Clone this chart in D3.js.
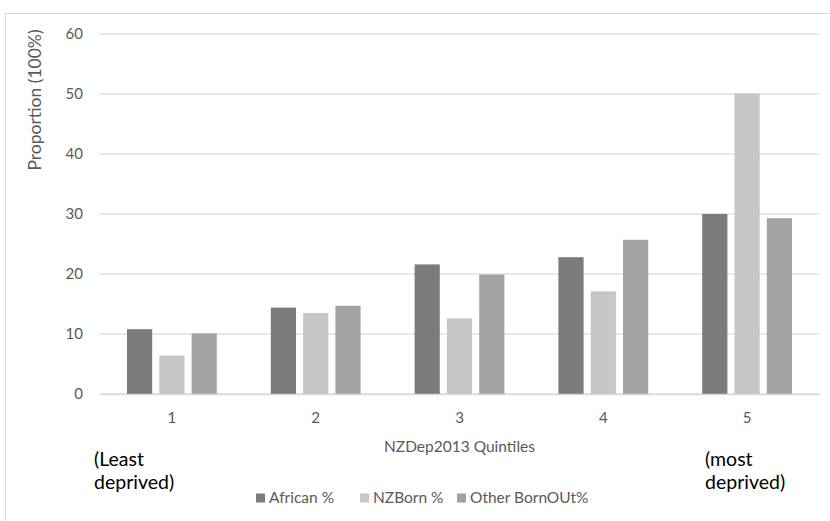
<!DOCTYPE html>
<html>
<head>
<meta charset="utf-8">
<script src="https://cdn.jsdelivr.net/npm/d3@7/dist/d3.min.js"></script>
<style>
  html, body { margin: 0; padding: 0; background: #fff; }
  svg text { font-family: Lato, "Open Sans", sans-serif; }
</style>
</head>
<body>
<svg id="chart" width="830" height="521"></svg>
<script>
// NZDep2013 quintile distribution by birthplace group
const quintiles = ["1", "2", "3", "4", "5"];
const seriesNames = ["African %", "NZBorn %", "Other BornOUt%"];
const african = [10.8, 14.4, 21.6, 22.8, 30.0];
const nzBorn = [6.4, 13.5, 12.6, 17.1, 50.1];
const otherBornOut = [10.1, 14.7, 19.9, 25.7, 29.3];
const yTicks = [0, 10, 20, 30, 40, 50, 60];
const colors = ["#7b7b7b", "#c5c6c5", "#a2a2a2"];

const seriesValues = [african, nzBorn, otherBornOut];
const rows = quintiles.map((q, i) => ({
  q, values: seriesNames.map((s, j) => ({ s, v: seriesValues[j][i] }))
}));

const svg = d3.select("#chart");
const plot = { left: 100, right: 819, top: 34, bottom: 394 };

// outer frame
svg.append("rect")
  .attr("x", 5.5).attr("y", 13.5)
  .attr("width", 830).attr("height", 520)
  .attr("fill", "none").attr("stroke", "#d9d9d9");

const x = d3.scaleBand().domain(quintiles).range([plot.left, plot.right]);
const x1 = d3.scaleBand().domain(seriesNames).range([27, x.bandwidth() - 27]).paddingInner(0.22);
const y = d3.scaleLinear().domain([0, 60]).range([plot.bottom, plot.top]);
const color = d3.scaleOrdinal().domain(seriesNames).range(colors);

// horizontal gridlines
svg.append("g")
  .selectAll("line").data(yTicks).join("line")
  .attr("x1", plot.left).attr("x2", plot.right)
  .attr("y1", d => y(d)).attr("y2", d => y(d))
  .attr("stroke", "#e2e2e2").attr("stroke-width", 1.3);

// y axis labels
const yAxis = svg.append("g")
  .attr("transform", `translate(83,0)`)
  .call(d3.axisLeft(y).tickValues(yTicks).tickSize(0).tickPadding(0));
yAxis.select(".domain").remove();
yAxis.selectAll("text")
  .attr("fill", "#595959").style("font-size", "15px");

// bars
svg.append("g")
  .selectAll("g").data(rows).join("g")
  .attr("transform", d => `translate(${x(d.q)},0)`)
  .selectAll("rect").data(d => d.values).join("rect")
  .attr("x", d => x1(d.s))
  .attr("width", x1.bandwidth())
  .attr("y", d => y(d.v))
  .attr("height", d => y(0) - y(d.v))
  .attr("fill", d => color(d.s));

// x axis
const xAxis = svg.append("g")
  .attr("transform", `translate(0,${plot.bottom})`)
  .call(d3.axisBottom(x).tickSize(0).tickPadding(18));
xAxis.select(".domain").attr("stroke", "#d9d9d9").attr("stroke-width", 1.3);
xAxis.selectAll("text").attr("fill", "#595959").style("font-size", "15px");

// axis titles
svg.append("text")
  .attr("transform", `translate(41,100) rotate(-90)`)
  .attr("text-anchor", "middle")
  .attr("fill", "#595959").style("font-size", "17.5px")
  .text("Proportion (100%)");

svg.append("text")
  .attr("x", (plot.left + plot.right) / 2).attr("y", 452)
  .attr("text-anchor", "middle")
  .attr("fill", "#595959").style("font-size", "15.5px")
  .text("NZDep2013 Quintiles");

// extreme quintile annotations
const note = svg.append("g").attr("fill", "#000").style("font-size", "19.5px");
note.append("text").attr("x", 94).attr("y", 466).text("(Least");
note.append("text").attr("x", 94).attr("y", 489).text("deprived)");
note.append("text").attr("x", 705).attr("y", 466).text("(most");
note.append("text").attr("x", 705).attr("y", 489).text("deprived)");

// legend
const legendX = [256, 360, 457];
const legend = svg.append("g").selectAll("g").data(seriesNames).join("g")
  .attr("transform", (d, i) => `translate(${legendX[i]},498)`);
legend.append("rect")
  .attr("x", 0).attr("y", -4.5).attr("width", 9).attr("height", 9)
  .attr("fill", d => color(d));
legend.append("text")
  .attr("x", 13).attr("y", 0).attr("dy", "0.35em")
  .attr("fill", "#595959").style("font-size", "15.5px")
  .text(d => d);
</script>
</body>
</html>
